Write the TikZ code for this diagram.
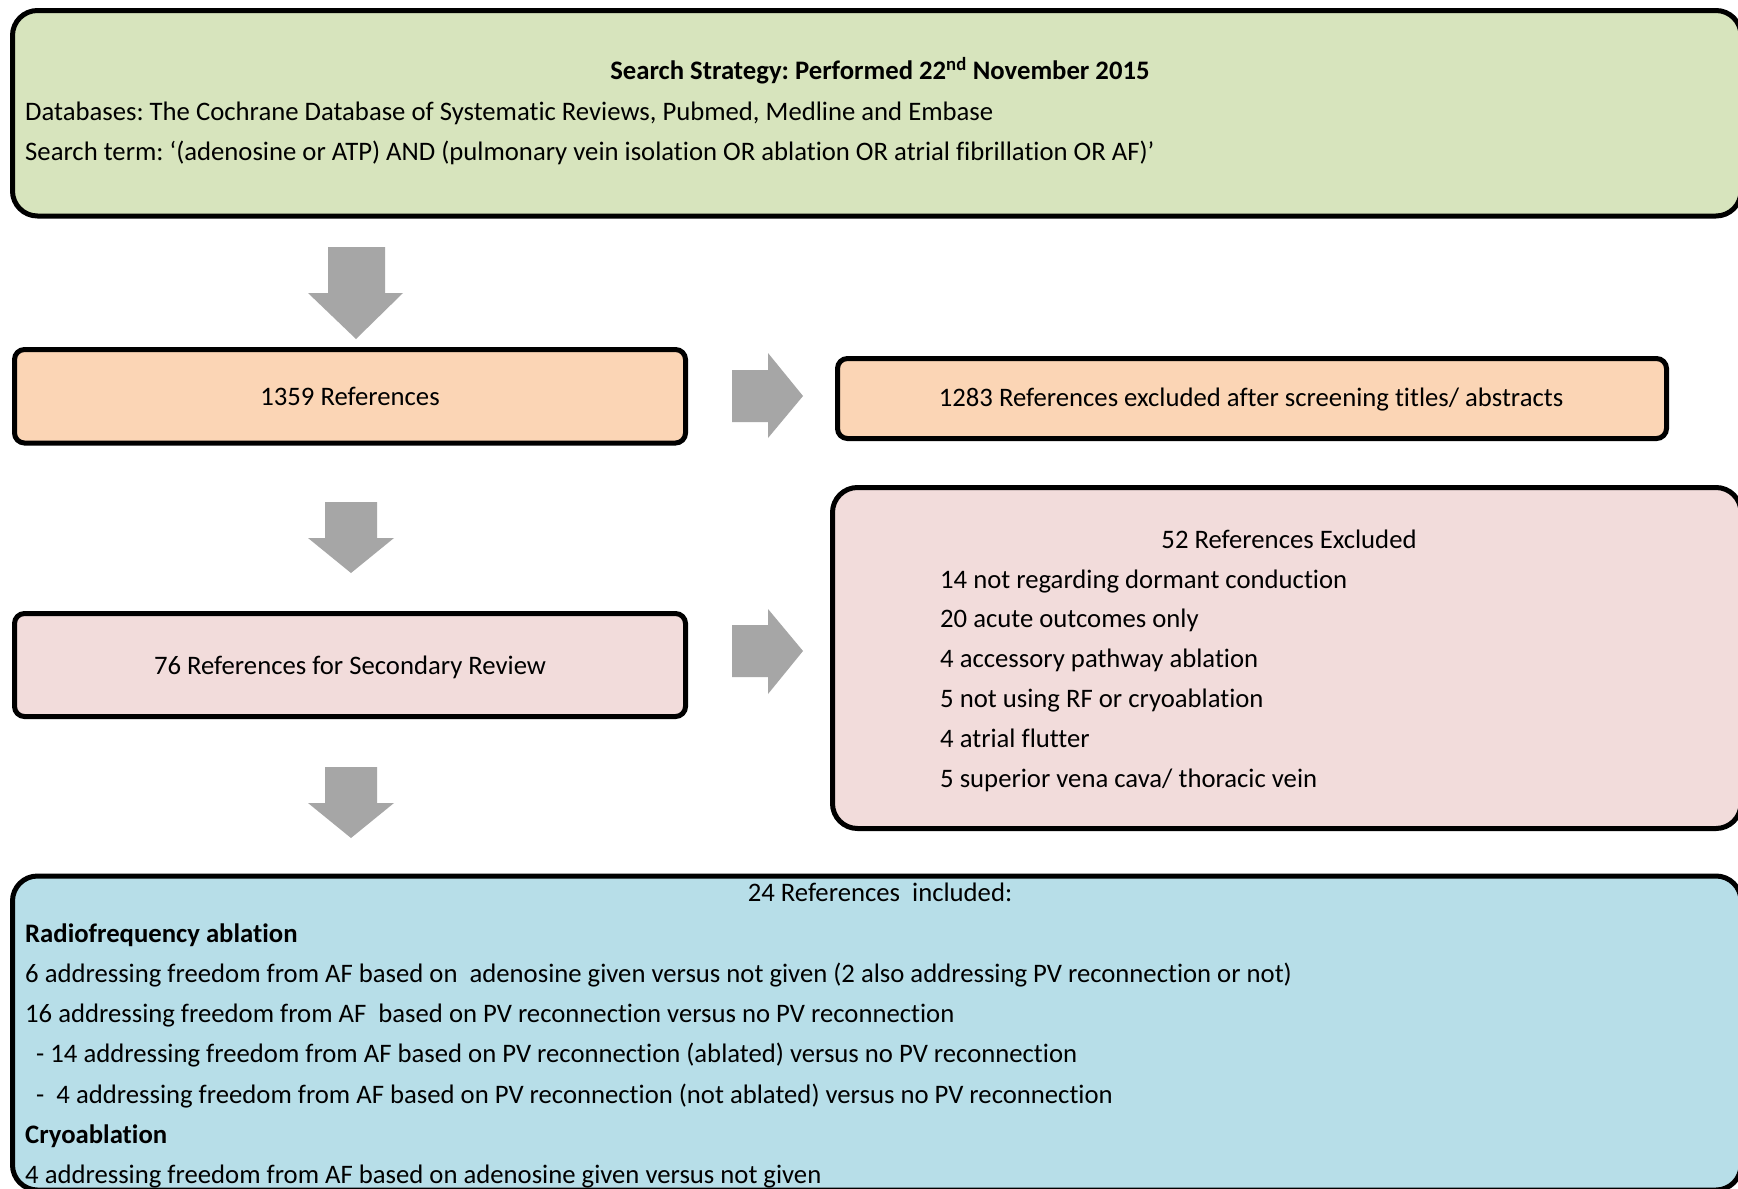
\documentclass[tikz,border=0pt]{standalone}
\usepackage{fontspec}
\setmainfont[Ligatures=NoCommon]{Carlito}
\frenchspacing
\definecolor{cgreen}{HTML}{D7E4BD}
\definecolor{corange}{HTML}{FBD5B5}
\definecolor{cpink}{HTML}{F2DCDB}
\definecolor{cblue}{HTML}{B7DEE8}
\definecolor{carrow}{HTML}{A6A6A6}
\begin{document}
\begin{tikzpicture}[x=1pt,y=-1pt,
  box/.style={draw=black,line width=5pt,rectangle,inner sep=0pt},
  smallbox/.style={box,rounded corners=10pt},
  bigbox/.style={box,rounded corners=25pt},
  txt/.style={inner sep=0pt,font=\fontsize{26.7}{32}\selectfont},
  btxt/.style={inner sep=0pt,font=\fontsize{26.7}{32}\selectfont\bfseries},
  lt/.style={txt,anchor=mid west},
  ct/.style={txt,anchor=mid},
  blockarrow/.style={fill=carrow,draw=none}]
\useasboundingbox (0,0) rectangle (1738,1189);
\fill[white] (0,0) rectangle (1738,1189);

% boxes
\path (12.5,10.5) -- (1741,216) node[midway,bigbox,fill=cgreen,minimum width=1728.5pt,minimum height=205.5pt] (search) {};
\path (14.5,349.5) -- (685.5,443) node[midway,smallbox,fill=corange,minimum width=671pt,minimum height=93.5pt] (refs) {};
\path (837.5,358.5) -- (1666.5,438.5) node[midway,smallbox,fill=corange,minimum width=829pt,minimum height=80pt] (excl1) {};
\path (14.5,613.5) -- (685.5,716.5) node[midway,smallbox,fill=cpink,minimum width=671pt,minimum height=103pt] (second) {};
\path (832.5,487.5) -- (1741,828.5) node[midway,bigbox,fill=cpink,minimum width=908.5pt,minimum height=341pt] (excl2) {};
\path (12.5,876) -- (1741,1190) node[midway,bigbox,fill=cblue,minimum width=1728.5pt,minimum height=314pt] (incl) {};

% block arrows
\fill[blockarrow] (328,247) -- (385,247) -- (385,293) -- (403,293) -- (356,339) -- (308,293) -- (328,293) -- cycle;
\fill[blockarrow] (325,502) -- (377,502) -- (377,538) -- (394,538) -- (351,573) -- (308,538) -- (325,538) -- cycle;
\fill[blockarrow] (325,767) -- (377,767) -- (377,803) -- (394,803) -- (351,838) -- (308,803) -- (325,803) -- cycle;
\fill[blockarrow] (732,370) -- (768,370) -- (768,353) -- (803,396) -- (768,438) -- (768,422) -- (732,422) -- cycle;
\fill[blockarrow] (732,625) -- (768,625) -- (768,609) -- (803,651) -- (768,694) -- (768,677) -- (732,677) -- cycle;

% search box text
\node[btxt,anchor=mid] (title) at (880,77) {Search Strategy: Performed 22\textsuperscript{nd} November 2015};
\node[lt] (db) at (25,118) {Databases: The Cochrane Database of Systematic Reviews, Pubmed, Medline and Embase};
\node[lt] (term) at (25,158) {Search term: ‘(adenosine or ATP) AND (pulmonary vein isolation OR ablation OR atrial fibrillation OR AF)’};

\node[ct] (t1359) at (350,403) {1359 References};
\node[ct] (t1283) at (1251,404) {1283 References excluded after screening titles/ abstracts};
\node[ct] (t76) at (350,672) {76 References for Secondary Review};

% excluded list
\node[ct] (t52) at (1289,546) {52 References Excluded};
\node[lt] (e1) at (940,586) {14 not regarding dormant conduction};
\node[lt] (e2) at (940,625) {20 acute outcomes only};
\node[lt] (e3) at (940,665) {4 accessory pathway ablation};
\node[lt] (e4) at (940,705) {5 not using RF or cryoablation};
\node[lt] (e5) at (940,745) {4 atrial flutter};
\node[lt] (e6) at (940,785) {5 superior vena cava/ thoracic vein};

% included list
\node[ct] (t24) at (880,899) {24 References\ \ included:};
\node[btxt,anchor=mid west] (rf) at (25,940) {Radiofrequency ablation};
\node[lt] (i1) at (25,980) {6 addressing freedom from AF based on\ \ adenosine given versus not given (2 also addressing PV reconnection or not)};
\node[lt] (i2) at (25,1020) {16 addressing freedom from AF\ \ based on PV reconnection versus no PV reconnection};
\node[lt] (i3) at (36,1060) {- 14 addressing freedom from AF based on PV reconnection (ablated) versus no PV reconnection};
\node[lt] (i4) at (36,1101) {-\ \ 4 addressing freedom from AF based on PV reconnection (not ablated) versus no PV reconnection};
\node[btxt,anchor=mid west] (cryo) at (25,1141) {Cryoablation};
\node[lt] (i5) at (25,1181) {4 addressing freedom from AF based on adenosine given versus not given};
\end{tikzpicture}
\end{document}
